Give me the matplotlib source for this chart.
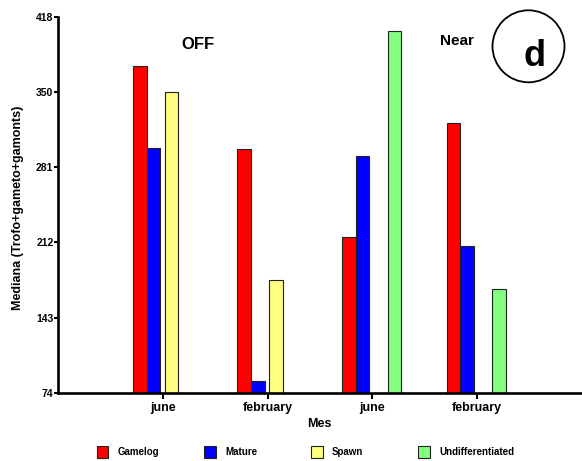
import numpy as np
import matplotlib
matplotlib.use("Agg")
import matplotlib.pyplot as plt
from matplotlib.patches import Rectangle, Ellipse

plt.rcParams['font.family'] = ['Liberation Sans', 'DejaVu Sans']
plt.rcParams['font.weight'] = 'bold'

months = ["june", "february", "june", "february"]
series_names = ["Gamelog", "Mature", "Spawn", "Undifferentiated"]
gamelog = [373.5, 297.5, 217.0, 321.5]
mature = [298.5, 85.5, 291.5, 208.5]
spawn = [350.0, 177.5, np.nan, np.nan]
undiff = [np.nan, np.nan, 405.5, 169.5]
colors = ["#FF0000", "#0000FF", "#FFFF80", "#80FF80"]
yticks = [74, 143, 212, 281, 350, 418]

W, H = 582, 461
fig = plt.figure(figsize=(W / 100, H / 100), dpi=100)
ax = fig.add_axes([58.3 / W, 1 - 393.3 / H, (581.3 - 58.3) / W, (393.3 - 17.3) / H])

x = np.arange(1, len(months) + 1)
width = 0.131
offsets = [-0.222, -0.091, 0.082, 0.213]
for vals, off, col in zip([gamelog, mature, spawn, undiff], offsets, colors):
    ax.bar(x + off, vals, width=width, color=col, edgecolor="#222222", linewidth=0.8, zorder=2)

ax.set_xlim(0, 5)
ax.set_ylim(74, 418)
ax.set_yticks(yticks)
ax.set_yticklabels([str(v) for v in yticks], fontsize=7.5, fontweight='bold')
ax.set_xticks(x)
ax.set_xticklabels(months, fontsize=9, fontweight='bold')
for s in ["top", "right"]:
    ax.spines[s].set_visible(False)
for s in ["left", "bottom"]:
    ax.spines[s].set_linewidth(1.9)
ax.tick_params(axis='y', length=3, width=1.5, pad=0.5)
ax.tick_params(axis='x', length=4, width=1.5, pad=2.5)
ax.set_xlabel("Mes", fontsize=9, fontweight='bold', labelpad=3)
fig.text(18.3 / W, 1 - 207.5 / H, "Mediana (Trofo+gameto+gamonts)", rotation=90,
         ha='center', va='center', fontsize=9, fontweight='bold')

# annotations
fig.text(198 / W, 1 - 44.5 / H, "OFF", ha='center', va='center', fontsize=12, fontweight='bold')
fig.text(456.5 / W, 1 - 41 / H, "Near", ha='center', va='center', fontsize=11, fontweight='bold')
circ = Ellipse((528.5 / W, 1 - 46.3 / H), 72 / W, 72 / H, transform=fig.transFigure,
               fill=False, edgecolor='black', linewidth=1.3)
fig.add_artist(circ)
fig.text(534.7 / W, 1 - 65.7 / H, "d", ha='center', va='baseline', fontsize=26, fontweight='bold')

# legend
leg_x = [96.7, 204, 311, 418.3]
for lx, name, col in zip(leg_x, series_names, colors):
    r = Rectangle((lx / W, 1 - 458.3 / H), 11.6 / W, 12.3 / H, transform=fig.transFigure,
                  facecolor=col, edgecolor='#222222', linewidth=0.8)
    fig.add_artist(r)
    fig.text((lx + 21) / W, 1 - 452.3 / H, name, ha='left', va='center', fontsize=7, fontweight='bold')

fig.savefig("out.png", dpi=100)
